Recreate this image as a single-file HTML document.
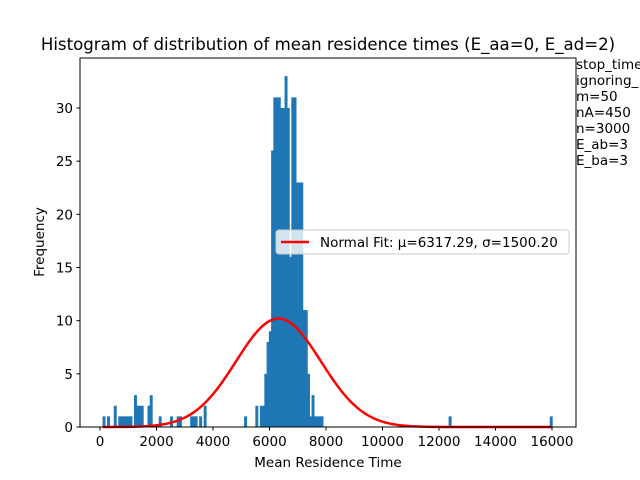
<!DOCTYPE html>
<html><head><meta charset="utf-8"><style>
body{margin:0;background:#fff}
svg{display:block;font-family:"DejaVu Sans","Liberation Sans",sans-serif}
</style></head><body>
<svg id="chart" width="640" height="480" viewBox="0 0 640 480">
<rect width="640" height="480" fill="#fff"/>
<text x="328" y="50" font-size="16.6" text-anchor="middle">Histogram of distribution of mean residence times (E_aa=0, E_ad=2)</text>
<g id="bars"></g>
<g id="curve"></g>
<rect x="80" y="58" width="496" height="369" fill="none" stroke="#000" stroke-width="1"/>
<g id="xticks"></g>
<g id="yticks"></g>
<text x="328" y="467" font-size="13.5" text-anchor="middle">Mean Residence Time</text>
<text x="44" y="242" font-size="13.5" text-anchor="middle" transform="rotate(-90 44 242)">Frequency</text>
<g>
<rect x="276" y="230" width="293" height="24" rx="3" fill="#fff" fill-opacity="0.8" stroke="#ccc"/>
<line x1="281" y1="242" x2="309" y2="242" stroke="red" stroke-width="2.5"/>
<text x="320" y="247" font-size="13.5">Normal Fit: μ=6317.29, σ=1500.20</text>
</g>
<g font-size="13.5">
<text x="576" y="69">stop_time</text>
<text x="576" y="85">ignoring_</text>
<text x="576" y="101">m=50</text>
<text x="576" y="117">nA=450</text>
<text x="576" y="133">n=3000</text>
<text x="576" y="149">E_ab=3</text>
<text x="576" y="165">E_ba=3</text>
</g>
</svg>
<script>
const binIndex=[0,2,5,7,8,9,10,11,12,14,15,16,17,20,21,25,30,33,34,39,40,41,43,45,63,68,70,71,72,73,74,75,76,77,78,79,80,81,82,83,84,85,86,87,88,89,90,91,92,93,94,95,96,97,154,199];
const counts=[1,1,2,1,1,1,1,1,1,3,2,2,2,2,3,1,1,1,1,1,1,1,1,2,1,2,2,2,5,8,9,26,31,31,31,30,30,33,30,16,31,31,23,23,23,11,11,5,1,3,1,1,1,1,1,1];
const xTicks=[0,2000,4000,6000,8000,10000,12000,14000,16000];
const yTicks=[0,5,10,15,20,25,30];
const binStart=90, binWidth=79.55;
const fitMu=6317.29, fitSigma=1500.20, fitN=482;
const NS="http://www.w3.org/2000/svg";
const X=v=>100+v*0.02825;
const Y=v=>427-v*10.633;
const bars=document.getElementById('bars');
binIndex.forEach((b,i)=>{
  const r=document.createElementNS(NS,'rect');
  const x0=X(binStart+b*binWidth), x1=X(binStart+(b+1)*binWidth);
  r.setAttribute('x',x0);r.setAttribute('width',x1-x0+0.7);
  r.setAttribute('y',Y(counts[i]));r.setAttribute('height',Y(0)-Y(counts[i]));
  r.setAttribute('fill','#1f77b4');
  
  
  bars.appendChild(r);
});
let d='';
for(let v=100;v<=16000;v+=40){
  const p=fitN*binWidth*Math.exp(-0.5*((v-fitMu)/fitSigma)**2)/(fitSigma*Math.sqrt(2*Math.PI));
  d+=(d?'L':'M')+X(v).toFixed(2)+' '+Y(p).toFixed(2);
}
const path=document.createElementNS(NS,'path');
path.setAttribute('d',d);path.setAttribute('fill','none');path.setAttribute('stroke','red');path.setAttribute('stroke-width','2.5');


document.getElementById('curve').appendChild(path);
const xg=document.getElementById('xticks');
xTicks.forEach(t=>{
  const l=document.createElementNS(NS,'line');
  l.setAttribute('x1',X(t));l.setAttribute('x2',X(t));l.setAttribute('y1',427);l.setAttribute('y2',430.5);l.setAttribute('stroke','#000');
  
  
  xg.appendChild(l);
  const tx=document.createElementNS(NS,'text');
  tx.setAttribute('x',X(t));tx.setAttribute('y',446);tx.setAttribute('font-size','13.5');tx.setAttribute('text-anchor','middle');
  tx.textContent=t;
  
  
  xg.appendChild(tx);
});
const yg=document.getElementById('yticks');
yTicks.forEach(t=>{
  const l=document.createElementNS(NS,'line');
  l.setAttribute('x1',76.5);l.setAttribute('x2',80);l.setAttribute('y1',Y(t));l.setAttribute('y2',Y(t));l.setAttribute('stroke','#000');
  
  
  yg.appendChild(l);
  const tx=document.createElementNS(NS,'text');
  tx.setAttribute('x',73);tx.setAttribute('y',Y(t)+5);tx.setAttribute('font-size','13.5');tx.setAttribute('text-anchor','end');
  tx.textContent=t;
  
  
  yg.appendChild(tx);
});
</script>
</body></html>
